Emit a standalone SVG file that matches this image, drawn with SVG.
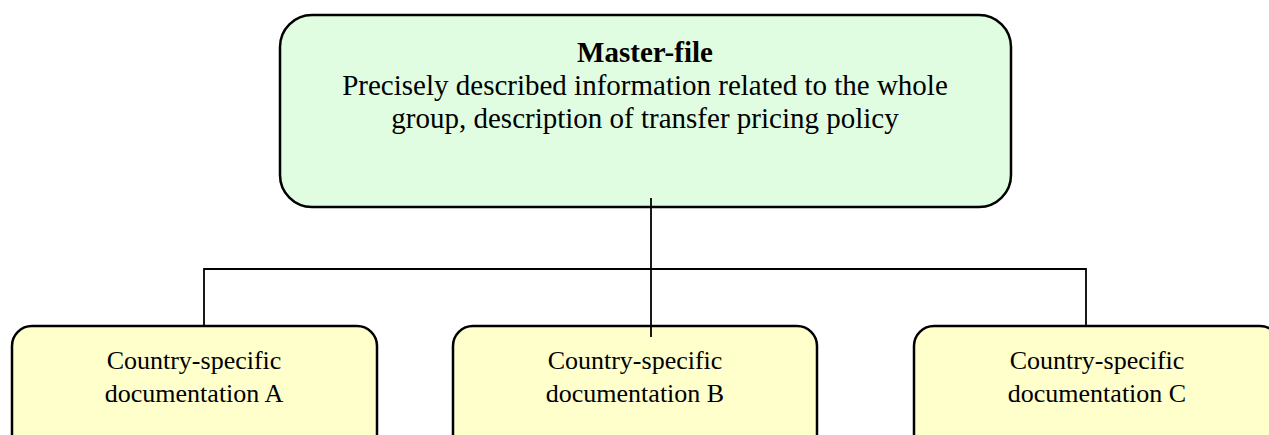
<svg xmlns="http://www.w3.org/2000/svg" width="1269" height="435" viewBox="0 0 1269 435">
<style>
.master{fill:#e1fde1;stroke:#000;stroke-width:2.5}
.doc{fill:#ffffcc;stroke:#000;stroke-width:2.5}
text{font-family:"Liberation Serif","Times New Roman",serif;fill:#000;text-anchor:middle}
.t{font-size:29px}
.d{font-size:26px}
.b{font-weight:bold}
.conn{fill:none;stroke:#000;stroke-width:1.8}
</style>
<rect width="1269" height="435" fill="#fff"/>
<g id="connectors">
<polyline class="conn" points="204,326 204,269 1086,269 1086,326"/>
</g>
<g id="master">
<rect class="master" x="280" y="15" width="731" height="192" rx="32" ry="32"/>
<text x="645" y="62" class="t b">Master-file</text>
<text x="645" y="95" class="t">Precisely described information related to the whole</text>
<text x="645" y="128" class="t">group, description of transfer pricing policy</text>
</g>
<g id="docA">
<rect class="doc" x="12" y="326" width="365" height="130" rx="20" ry="20"/>
<text x="194" y="369" class="d">Country-specific</text>
<text x="194" y="402" class="d">documentation A</text>
</g>
<g id="docB">
<rect class="doc" x="453" y="326" width="364" height="130" rx="20" ry="20"/>
<text x="635" y="369" class="d">Country-specific</text>
<text x="635" y="402" class="d">documentation B</text>
</g>
<g id="docC">
<rect class="doc" x="914" y="326" width="366" height="130" rx="20" ry="20"/>
<text x="1097" y="369" class="d">Country-specific</text>
<text x="1097" y="402" class="d">documentation C</text>
</g>
<g id="connector-center">
<line class="conn" x1="651" y1="198" x2="651" y2="337"/>
</g>
</svg>
